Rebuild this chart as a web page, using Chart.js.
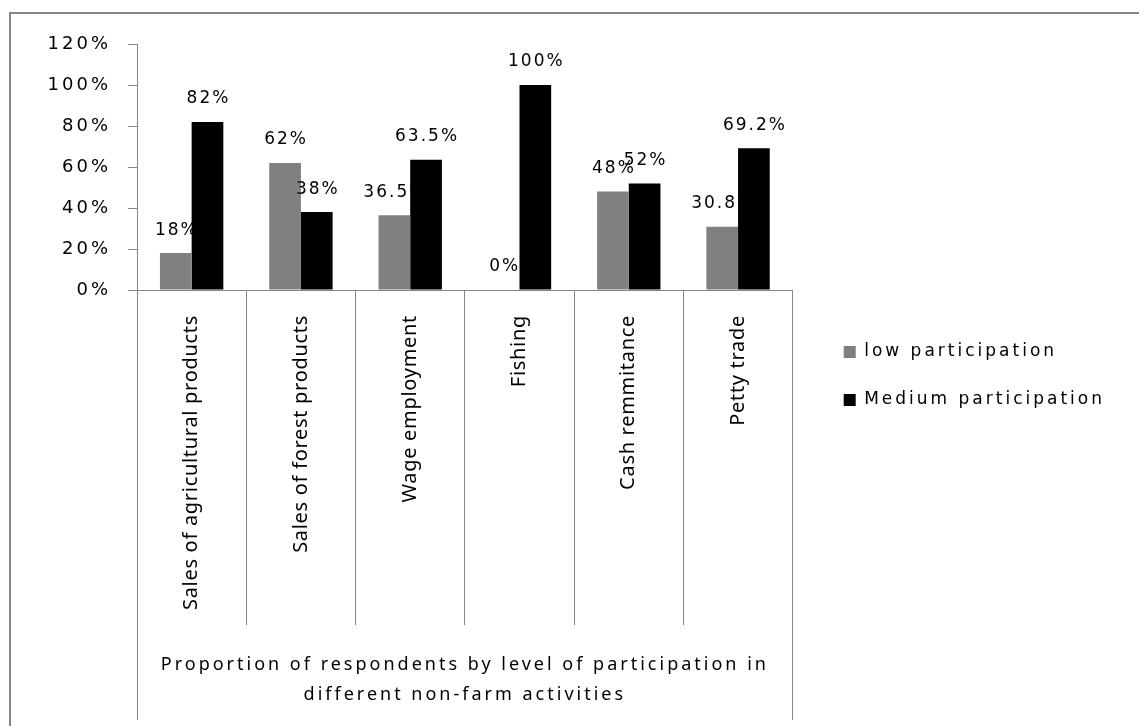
<!DOCTYPE html>
<html lang="en">
<head>
    <meta charset="UTF-8">
    <title>Participation in non-farm activities</title>
    <script src="https://cdn.jsdelivr.net/npm/chart.js"></script>
    <style>
        body { margin: 0; background: #fff; }
        .chart-box { position: relative; width: 1139px; height: 726px; }
    </style>
</head>
<body>
    <div class="chart-box"><canvas id="activityChart"></canvas></div>

    <script>
        const activities = ["Sales of agricultural products", "Sales of forest products", "Wage employment", "Fishing", "Cash remmitance", "Petty trade"];
        const lowParticipation = [18, 62, 36.5, 0, 48, 30.8];
        const mediumParticipation = [82, 38, 63.5, 100, 52, 69.2];
        const seriesNames = ["low participation", "Medium participation"];
        const yTicks = [0, 20, 40, 60, 80, 100, 120];
        const axisTitle = ["Proportion of respondents by level of participation in", "different non-farm activities"];

        const lineGray = "#868686";

        // same rounding Chart.js uses for 1px lines
        function crisp(p) {
            return Math.round(p - 0.5) + 0.5;
        }

        // value labels above each bar, as "18%" etc.
        function drawValueLabels(chart, dsIndex) {
            const ctx = chart.ctx;
            const meta = chart.getDatasetMeta(dsIndex);
            const values = chart.data.datasets[dsIndex].data;
            ctx.save();
            ctx.letterSpacing = "2px";
            ctx.font = "17px 'DejaVu Sans'";
            ctx.fillStyle = "#000";
            ctx.textAlign = "center";
            ctx.textBaseline = "middle";
            meta.data.forEach(function (bar, i) {
                ctx.fillText(values[i] + "%", bar.x + 1, bar.y - 23);
            });
            ctx.restore();
        }

        // outer frame, the box under the category axis, and text spacing
        const excelFrame = {
            id: "excelFrame",
            beforeLayout(chart) {
                chart.ctx.letterSpacing = "0px";
            },
            afterLayout(chart) {
                const legend = chart.legend;
                legend.left = chart.chartArea.right + 20;
                legend.right = chart.width;
                legend.width = legend.right - legend.left;
                legend.top -= 18;
            },
            beforeDraw(chart) {
                const ctx = chart.ctx;
                const area = chart.chartArea;
                ctx.save();
                ctx.strokeStyle = lineGray;
                ctx.lineWidth = 2;
                ctx.strokeRect(10, 13, 1400, 1000);
                ctx.lineWidth = 1;
                ctx.beginPath();
                const l = crisp(area.left);
                const r = crisp(area.right);
                ctx.moveTo(l, area.bottom);
                ctx.lineTo(l, 720);
                ctx.moveTo(r, area.bottom);
                ctx.lineTo(r, 720);
                ctx.stroke();
                ctx.restore();
                ctx.letterSpacing = "3px";
            },
            beforeDatasetsDraw(chart) {
                drawValueLabels(chart, 0);
            },
            afterDatasetsDraw(chart) {
                drawValueLabels(chart, 1);
                chart.ctx.letterSpacing = "0.7px";
            },
            afterDraw(chart) {
                chart.ctx.letterSpacing = "0px";
            }
        };

        new Chart(document.getElementById("activityChart"), {
            type: "bar",
            data: {
                labels: activities,
                datasets: [
                    {
                        label: seriesNames[0],
                        data: lowParticipation,
                        backgroundColor: "#808080",
                        borderWidth: 0,
                        categoryPercentage: 0.58,
                        barPercentage: 1,
                    },
                    {
                        label: seriesNames[1],
                        data: mediumParticipation,
                        backgroundColor: "#000000",
                        borderWidth: 0,
                        categoryPercentage: 0.58,
                        barPercentage: 1,
                    },
                ],
            },
            options: {
                responsive: true,
                maintainAspectRatio: false,
                animation: false,
                layout: { padding: { top: 44, right: 104, left: 0, bottom: 0 } },
                plugins: {
                    legend: {
                        position: "right",
                        labels: {
                            boxWidth: 12,
                            boxHeight: 12,
                            padding: 31,
                            color: "#000",
                            font: { family: "'DejaVu Sans'", size: 17 },
                        },
                    },
                    tooltip: { enabled: false },
                },
                scales: {
                    x: {
                        grid: { offset: true, drawOnChartArea: false, tickLength: 335, color: lineGray },
                        border: { color: lineGray },
                        ticks: {
                            autoSkip: false,
                            minRotation: 90,
                            maxRotation: 90,
                            padding: -310,
                            color: "#000",
                            font: { family: "'Noto Sans'", size: 20 },
                            z: 1,
                        },
                        title: {
                            display: true,
                            text: axisTitle,
                            color: "#000",
                            font: { family: "'Noto Sans'", size: 18, lineHeight: 1.667 },
                            padding: { top: 0, bottom: 16 },
                        },
                        afterFit: function (scale) { scale.height = 436; },
                    },
                    y: {
                        min: yTicks[0],
                        max: yTicks[yTicks.length - 1],
                        grid: { drawOnChartArea: false, tickLength: 9, color: lineGray },
                        border: { color: lineGray },
                        ticks: {
                            color: "#000",
                            padding: 17,
                            font: { family: "'DejaVu Sans'", size: 18 },
                            callback: function (v) { return v + "%"; },
                        },
                        afterBuildTicks: function (scale) {
                            scale.ticks = yTicks.map(function (v) { return { value: v }; });
                        },
                        afterFit: function (scale) { scale.width = 137; },
                    },
                },
            },
            plugins: [excelFrame],
        });
    </script>
</body>
</html>
